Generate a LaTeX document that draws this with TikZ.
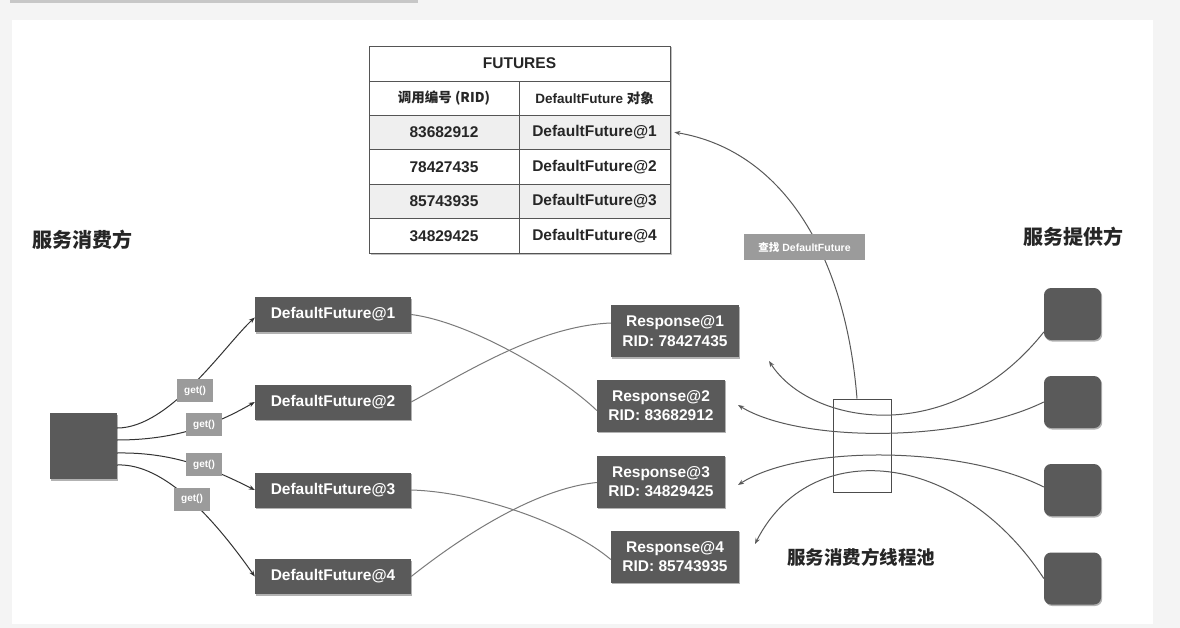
\documentclass[tikz,border=0pt]{standalone}
\usepackage{fontspec}
\setmainfont{Liberation Sans}
\newfontfamily\cjk{Noto Sans CJK SC}
\usetikzlibrary{arrows.meta,shadows}
\definecolor{boxdark}{HTML}{5A5A5A}
\definecolor{lblgray}{HTML}{9B9B9B}
\definecolor{linegray}{HTML}{7A7A7A}
\definecolor{bggray}{HTML}{F4F4F4}
\definecolor{rowgray}{HTML}{EFEFEF}
\definecolor{tabline}{HTML}{555555}
\tikzset{
  shad/.style={drop shadow={shadow xshift=1.2pt,shadow yshift=-1.5pt,opacity=0.3,fill=black}},
  dfbox/.style={shad,fill=boxdark,text=white,minimum width=156pt,minimum height=35pt,inner sep=0pt,font=\fontsize{15.5}{18}\selectfont\bfseries},
  rbox/.style={shad,fill=boxdark,text=white,minimum width=128pt,minimum height=52pt,inner sep=0pt,align=center,font=\fontsize{15.5}{19.5}\selectfont\bfseries},
  prov/.style={shad,fill=boxdark,rounded corners=7pt,minimum width=57pt,minimum height=52pt,inner sep=0pt},
  getlbl/.style={fill=lblgray,text=white,minimum width=36pt,minimum height=23pt,inner sep=0pt,font=\fontsize{10}{12}\selectfont\bfseries},
  cell/.style={draw=tabline,line width=0.8pt,fill=white,inner sep=0pt,text=black!85,font=\fontsize{15.5}{18}\selectfont\bfseries},
  hdr/.style={cell,font=\fontsize{13.5}{16}\selectfont\bfseries},
  grayrow/.style={fill=rowgray},
  getarr/.style={draw=black!80,line width=1pt,-{Stealth[length=6pt,width=4.5pt]}},
  link/.style={draw=linegray,line width=1pt},
  thr/.style={draw=black!65,line width=1pt,-{Stealth[length=6pt,width=4.5pt]}},
  zh/.style={font=\cjk\bfseries\fontsize{20}{24}\selectfont,text=black!85}
}
\begin{document}
\begin{tikzpicture}[x=1pt,y=-1pt]
\useasboundingbox (0,0) rectangle (1180,628);
\fill[bggray] (0,0) rectangle (1180,628);
\fill[white] (12,20) rectangle (1153,624);
\fill[black!22] (10,0) rectangle (418,3);

% table
\fill[black,opacity=0.25] (370.5,47.5) rectangle (672,255);
\node[cell,minimum width=301pt,minimum height=35pt] (t) at (519.5,63.5) {FUTURES};
\node[hdr,minimum width=150pt,minimum height=34pt] (h1) at (444,98) {\cjk 调用编号 (RID)};
\node[hdr,minimum width=151pt,minimum height=34pt] (h2) at (594.5,98) {DefaultFuture {\cjk 对象}};
\node[cell,grayrow,minimum width=150pt,minimum height=34.5pt] (r1a) at (444,132.25) {83682912};
\node[cell,grayrow,minimum width=151pt,minimum height=34.5pt] (r1b) at (594.5,132.25) {DefaultFuture@1};
\node[cell,minimum width=150pt,minimum height=34.5pt] (r2a) at (444,166.75) {78427435};
\node[cell,minimum width=151pt,minimum height=34.5pt] (r2b) at (594.5,166.75) {DefaultFuture@2};
\node[cell,grayrow,minimum width=150pt,minimum height=34.5pt] (r3a) at (444,201.25) {85743935};
\node[cell,grayrow,minimum width=151pt,minimum height=34.5pt] (r3b) at (594.5,201.25) {DefaultFuture@3};
\node[cell,minimum width=150pt,minimum height=34.5pt] (r4a) at (444,235.75) {34829425};
\node[cell,minimum width=151pt,minimum height=34.5pt] (r4b) at (594.5,235.75) {DefaultFuture@4};

% titles
\node[zh] (cons) at (82,240) {服务消费方};
\node[zh] (provt) at (1073,237) {服务提供方};
\node[zh,font=\cjk\bfseries\fontsize{18.5}{22}\selectfont] (pooll) at (861,557) {服务消费方线程池};

% consumer
\node[shad,fill=boxdark,minimum width=67pt,minimum height=66pt,inner sep=0pt] (c) at (83.5,446) {};

% futures
\node[dfbox] (df1) at (333,314.5) {DefaultFuture@1};
\node[dfbox] (df2) at (333,402) {DefaultFuture@2};
\node[dfbox] (df3) at (333,490) {DefaultFuture@3};
\node[dfbox] (df4) at (333,576.5) {DefaultFuture@4};

% responses
\node[rbox] (r1) at (675,331) {Response@1\\RID: 78427435};
\node[rbox] (r2) at (661,405.5) {Response@2\\RID: 83682912};
\node[rbox] (r3) at (661,481.5) {Response@3\\RID: 34829425};
\node[rbox] (r4) at (675,556.5) {Response@4\\RID: 85743935};

% providers
\node[prov] (p1) at (1072.5,314) {};
\node[prov] (p2) at (1072.5,402) {};
\node[prov] (p3) at (1072.5,490) {};
\node[prov] (p4) at (1072.5,578.5) {};

% thread pool
\node[draw=black!70,line width=1pt,minimum width=58pt,minimum height=93pt,inner sep=0pt] (pool) at (862,445.5) {};

% get() arrows
\draw[getarr] ([yshift=18pt]c.east) .. controls (170,428) and (225,345) .. ([yshift=-3pt]df1.west);
\draw[getarr] ([yshift=6pt]c.east) .. controls (175,440) and (215,425) .. (df2.west);
\draw[getarr] ([yshift=-7pt]c.east) .. controls (175,452) and (215,470) .. (df3.west);
\draw[getarr] ([yshift=-19pt]c.east) .. controls (165,463) and (215,520) .. (df4.west);

% future -> response links
\draw[link] (df1.east) .. controls (470,322) and (560,375) .. ([yshift=-5pt]r2.west);
\draw[link] (df2.east) .. controls (470,370) and (540,326) .. ([yshift=8pt]r1.west);
\draw[link] (df3.east) .. controls (480,492) and (570,525) .. ([yshift=-3pt]r4.west);
\draw[link] (df4.east) .. controls (470,530) and (540,488) .. ([yshift=-1pt]r3.west);

% provider -> response threads
\coordinate (a1) at (769,361);
\coordinate (a2) at (738,405);
\coordinate (a3) at (738,485);
\coordinate (a4) at (755,544);
\draw[thr] ([yshift=-18pt]p1.west) .. controls (950,450) and (810,425) .. (a1);
\draw[thr] (p2.west) .. controls (960,443) and (800,443) .. (a2);
\draw[thr] ([yshift=3pt]p3.west) .. controls (960,445) and (800,445) .. (a3);
\draw[thr] (p4.west) .. controls (960,450) and (810,435) .. (a4);

% pool -> table
\draw[thr] ([xshift=-5pt]pool.north) .. controls (845,250) and (780,150) .. ([xshift=4pt]r1b.east);

% labels
\node[getlbl] (g1) at (195,390.5) {get()};
\node[getlbl] (g2) at (204,424.5) {get()};
\node[getlbl] (g3) at (204,464.5) {get()};
\node[getlbl] (g4) at (192,499) {get()};
\node[getlbl,minimum width=121pt,minimum height=26pt,font=\fontsize{10.5}{12}\selectfont\bfseries] (find) at (804.5,247) {{\cjk 查找} DefaultFuture};
\end{tikzpicture}
\end{document}
